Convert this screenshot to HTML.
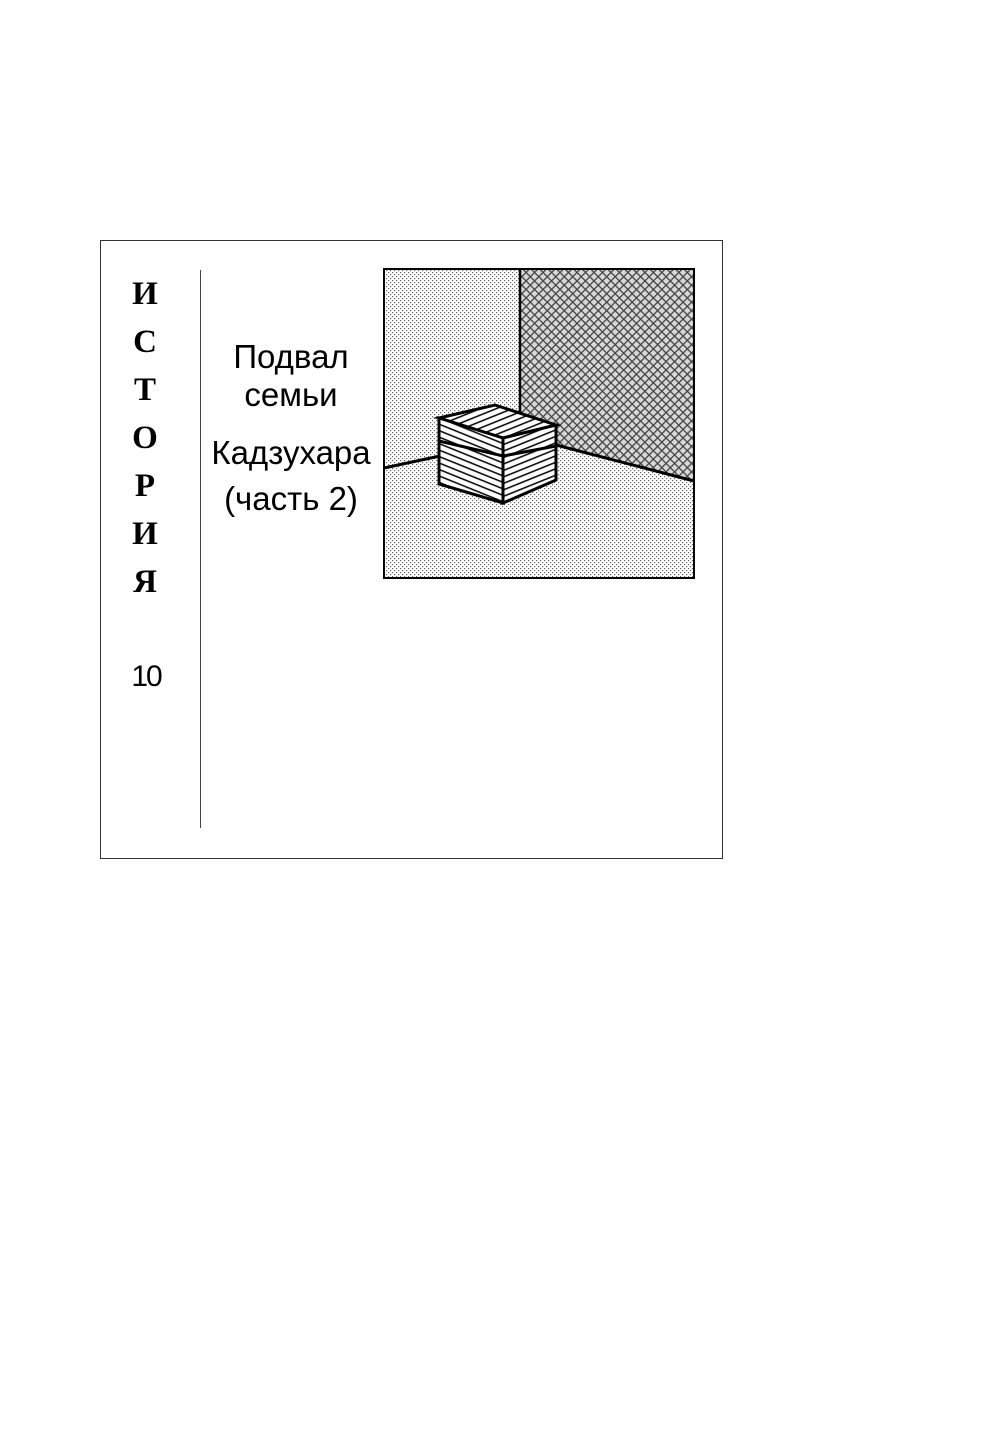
<!DOCTYPE html>
<html><head><meta charset="utf-8"><style>
html,body{margin:0;padding:0;background:#fff}
svg{display:block}
text{font-family:"Liberation Sans","DejaVu Sans",sans-serif;fill:#000}
</style></head><body>
<svg width="1000" height="1454" viewBox="0 0 1000 1454" xmlns="http://www.w3.org/2000/svg">
<defs>
<pattern id="dots" width="4" height="4" patternUnits="userSpaceOnUse">
<rect width="4" height="4" fill="#fff"/><rect x="0" y="0" width="1.2" height="1.2" fill="#666"/><rect x="2" y="2" width="1.2" height="1.2" fill="#666"/>
</pattern>
<pattern id="dark" width="6" height="6" patternUnits="userSpaceOnUse" patternTransform="rotate(45)">
<rect width="6" height="6" fill="#d8d8d8"/><rect x="0" y="0" width="6" height="1.3" fill="#444"/><rect x="0" y="0" width="1.3" height="6" fill="#444"/>
</pattern>
<pattern id="wood" width="10" height="6" patternUnits="userSpaceOnUse" patternTransform="rotate(22)">
<rect width="10" height="6" fill="#fff"/><rect y="0" width="10" height="1.6" fill="#111"/>
</pattern>
<pattern id="wood2" width="10" height="6" patternUnits="userSpaceOnUse" patternTransform="rotate(-22)">
<rect width="10" height="6" fill="#fff"/><rect y="0" width="10" height="1.6" fill="#111"/>
</pattern>
</defs>
<rect x="100.5" y="240.5" width="622" height="618" fill="none" stroke="#333" stroke-width="1"/>
<line x1="200.5" y1="270" x2="200.5" y2="828" stroke="#444" stroke-width="1"/>
<g font-size="33" text-anchor="middle" style="font-family:'Liberation Serif',serif;font-weight:bold">
<text x="145" y="304" style="font-family:'Liberation Serif',serif">И</text>
<text x="145" y="352" style="font-family:'Liberation Serif',serif">С</text>
<text x="145" y="400" style="font-family:'Liberation Serif',serif">Т</text>
<text x="145" y="448" style="font-family:'Liberation Serif',serif">О</text>
<text x="145" y="496" style="font-family:'Liberation Serif',serif">Р</text>
<text x="145" y="544" style="font-family:'Liberation Serif',serif">И</text>
<text x="145" y="592" style="font-family:'Liberation Serif',serif">Я</text>
</g>
<text x="146" y="686" font-size="30" text-anchor="middle" letter-spacing="-2">10</text>
<g font-size="33" text-anchor="middle">
<text x="291" y="368">Подвал</text>
<text x="291" y="406">семьи</text>
<text x="291" y="464">Кадзухара</text>
<text x="291" y="510">(часть 2)</text>
</g>
<rect x="384" y="269" width="310" height="309" fill="url(#dots)"/>
<polygon points="520,269 694,269 694,481 557,445 520,430" fill="url(#dark)"/>
<rect x="384" y="269" width="310" height="309" fill="none" stroke="#000" stroke-width="2"/>
<line x1="520" y1="269" x2="520" y2="428" stroke="#000" stroke-width="2.5"/>
<line x1="384" y1="468" x2="440" y2="456" stroke="#000" stroke-width="3"/>
<line x1="556" y1="445" x2="694" y2="481" stroke="#000" stroke-width="3"/>
<polygon points="439,418 495,405 556,425 503,438" fill="url(#wood2)" stroke="#000" stroke-width="3"/>
<polygon points="439,418 503,438 503,503 439,484" fill="url(#wood)" stroke="#000" stroke-width="3"/>
<polygon points="503,438 556,425 556,480 503,503" fill="url(#wood2)" stroke="#000" stroke-width="3"/>
<polyline points="439,441 503,456 556,446" fill="none" stroke="#000" stroke-width="3"/>
</svg>
</body></html>
